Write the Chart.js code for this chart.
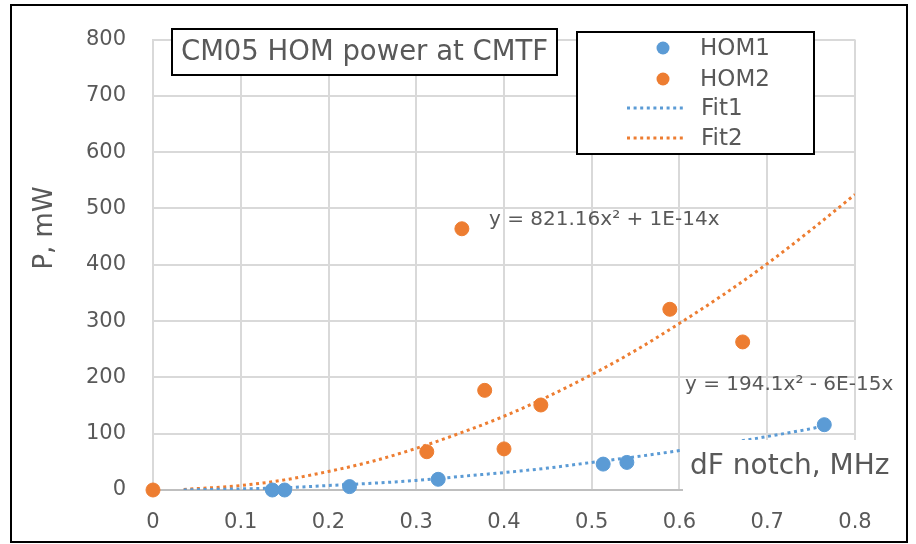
<!DOCTYPE html>
<html>
<head>
<meta charset="utf-8">
<script src="https://cdn.jsdelivr.net/npm/chart.js@4.4.1/dist/chart.umd.min.js"></script>
<style>
  html, body { margin: 0; padding: 0; background: #fff; }
  #wrap { position: relative; width: 916px; height: 544px; }
</style>
</head>
<body>
<div id="wrap"><canvas id="c" width="916" height="544"></canvas></div>
<script>
// ---- data ----
const hom1X = [0.136, 0.150, 0.224, 0.325, 0.513, 0.540, 0.765];
const hom1Y = [0, 0, 6, 19, 46, 49, 116];
const hom2X = [0, 0.312, 0.352, 0.378, 0.400, 0.442, 0.589, 0.672];
const hom2Y = [0, 68, 464, 177, 73, 151, 321, 263];
const fit1X = [0.035, 0.1, 0.15, 0.2, 0.25, 0.3, 0.35, 0.4, 0.45, 0.5, 0.55, 0.6, 0.65, 0.7, 0.75, 0.765];
const fit1Y = [0.2, 2, 4, 8, 12, 17, 24, 31, 39, 49, 59, 70, 82, 95, 109, 114];
const fit2X = [0.035, 0.1, 0.15, 0.2, 0.25, 0.3, 0.35, 0.4, 0.45, 0.5, 0.55, 0.6, 0.65, 0.7, 0.75, 0.8];
const fit2Y = [1, 8, 18, 33, 51, 74, 101, 131, 166, 205, 248, 296, 347, 402, 462, 525];
const seriesNames = ["HOM1", "HOM2", "Fit1", "Fit2"];
const chartTitle = "CM05 HOM power at CMTF";
const eq1 = "y = 194.1x\u00b2 - 6E-15x";
const eq2 = "y = 821.16x\u00b2 + 1E-14x";
const xTitle = "dF notch, MHz";
const yTitle = "P, mW";

const BLUE = "#5B9BD5", ORANGE = "#ED7D31", TXT = "#595959", GRID = "#D9D9D9";
const FONT = "'DejaVu Sans', sans-serif";
const DOTS = [3, 3.6];
const pts = (xs, ys) => xs.map((x, i) => ({ x, y: ys[i] }));

// annotations: border, title box, legend, equations, axis titles
const deco = {
  id: "deco",
  afterDraw(chart) {
    const c = chart.ctx;
    c.save();
    // x-axis title with white backing (covers grid like the original)
    c.fillStyle = "#fff";
    c.fillRect(683, 440, 222, 58);
    c.fillStyle = TXT;
    c.font = "28px " + FONT;
    c.textBaseline = "middle"; c.textAlign = "left";
    c.fillText(xTitle, 690, 467);

    // y-axis title
    c.save();
    c.translate(45, 228); c.rotate(-Math.PI / 2);
    c.textAlign = "center"; c.font = "26px " + FONT;
    c.fillText(yTitle, 0, 0);
    c.restore();

    // equations
    c.font = "20px " + FONT; c.textAlign = "left";
    c.fillText(eq2, 489, 220);
    c.fillText(eq1, 685, 385);

    // title box
    c.lineWidth = 2; c.strokeStyle = "#000";
    c.fillStyle = "#fff";
    c.fillRect(172, 29, 385, 46); c.strokeRect(172, 29, 385, 46);
    c.fillStyle = TXT; c.font = "27.5px " + FONT; c.textAlign = "center";
    c.fillText(chartTitle, 364.5, 53);

    // legend
    c.fillStyle = "#fff";
    c.fillRect(577, 32, 237, 122); c.strokeRect(577, 32, 237, 122);
    const rows = [48, 79, 108, 138];
    const ds = chart.data.datasets;
    c.font = "23px " + FONT; c.textAlign = "left";
    rows.forEach((ry, i) => {
      const d = ds[i];
      if (i < 2) {
        c.fillStyle = d.backgroundColor;
        c.beginPath(); c.arc(663, ry, 6.5, 0, Math.PI * 2); c.fill();
      } else {
        c.strokeStyle = d.borderColor; c.lineWidth = 3;
        c.setLineDash(DOTS);
        c.beginPath(); c.moveTo(627, ry); c.lineTo(684, ry); c.stroke();
        c.setLineDash([]);
      }
      c.fillStyle = TXT;
      c.fillText(d.label, i < 2 ? 700 : 701, ry + 1);
    });

    // outer frame
    c.strokeStyle = "#000"; c.lineWidth = 2;
    c.strokeRect(11, 5, 896, 537);
    c.restore();
  }
};

new Chart(document.getElementById("c"), {
  type: "scatter",
  data: {
    datasets: [
      { label: seriesNames[0], data: pts(hom1X, hom1Y), backgroundColor: BLUE, borderColor: BLUE, pointRadius: 7, pointHoverRadius: 7, clip: false },
      { label: seriesNames[1], data: pts(hom2X, hom2Y), backgroundColor: ORANGE, borderColor: ORANGE, pointRadius: 7, pointHoverRadius: 7, clip: false },
      { label: seriesNames[2], data: pts(fit1X, fit1Y), showLine: true, borderColor: BLUE, backgroundColor: BLUE, borderWidth: 3, borderDash: DOTS, pointRadius: 0, cubicInterpolationMode: "monotone" },
      { label: seriesNames[3], data: pts(fit2X, fit2Y), showLine: true, borderColor: ORANGE, backgroundColor: ORANGE, borderWidth: 3, borderDash: DOTS, pointRadius: 0, cubicInterpolationMode: "monotone" },
    ]
  },
  options: {
    responsive: false, animation: false, devicePixelRatio: 1,
    layout: { padding: { left: 0, top: 21, right: 61, bottom: 0 } },
    plugins: { legend: { display: false }, tooltip: { enabled: false } },
    scales: {
      x: {
        type: "linear", min: 0, max: 0.8,
        ticks: { stepSize: 0.1, color: TXT, font: { family: FONT, size: 21 }, padding: 20 },
        grid: { color: GRID, lineWidth: 2, drawTicks: false },
        border: { color: "#BFBFBF", width: 2 },
        afterFit(s) { s.height = 54; }
      },
      y: {
        min: 0, max: 800,
        ticks: { stepSize: 100, color: TXT, font: { family: FONT, size: 21 }, padding: 27 },
        grid: { color: GRID, lineWidth: 2, drawTicks: false },
        border: { color: GRID, width: 2 },
        afterFit(s) { s.width = 153; }
      }
    }
  },
  plugins: [deco]
});
</script>
</body>
</html>
